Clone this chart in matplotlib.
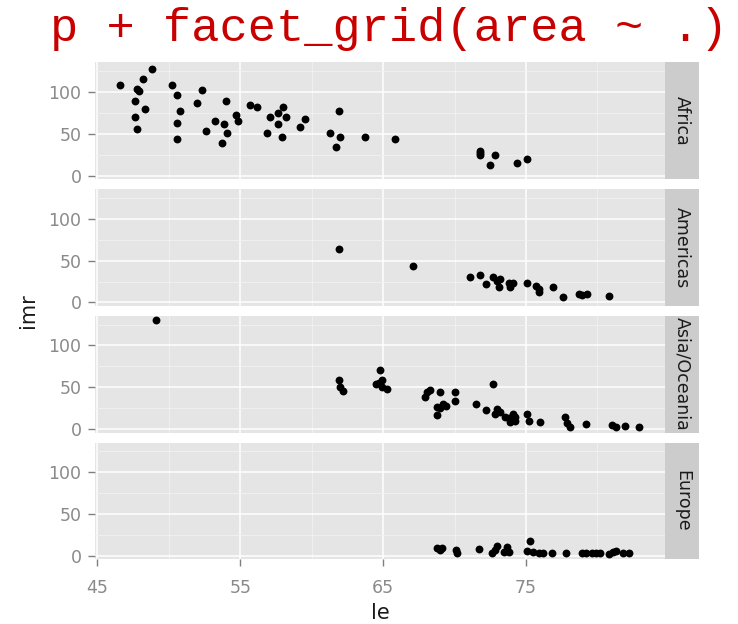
import matplotlib
matplotlib.use("Agg")
import matplotlib.pyplot as plt
from matplotlib.patches import Rectangle

# life expectancy (le) and infant mortality rate (imr) per area
africa_le = [46.55, 47.66, 47.8, 47.94, 47.66, 47.8, 48.3, 48.2, 48.8, 50.2,
             50.6, 50.8, 50.6, 50.6, 52.0, 52.3, 52.6, 53.2, 53.7, 53.85,
             54.0, 54.1, 54.7, 54.85, 55.7, 56.2, 57.1, 56.9, 57.65, 57.65,
             58.0, 58.2, 57.9, 59.2, 59.5, 61.3, 61.9, 61.7, 62.0, 63.7,
             65.8, 71.8, 71.8, 71.8, 72.8, 72.5, 74.4, 75.1]
africa_imr = [108, 89, 104, 101, 70, 56, 80, 115, 127, 108,
              96, 77, 63, 44, 87, 102, 53, 65, 39, 62,
              89, 51, 73, 65, 84, 82, 70, 51, 75, 62,
              82, 70, 46, 58, 68, 51, 77, 34, 46, 46,
              44, 29, 25, 27, 25, 13, 15, 20]

americas_le = [61.9, 67.1, 71.1, 71.8, 72.2, 72.7, 73.0, 73.2, 73.1, 73.8,
               73.9, 74.1, 75.1, 75.7, 75.9, 75.9, 76.9, 77.6, 78.7, 78.9,
               79.3, 80.8]
americas_imr = [64, 44, 30, 33, 22, 30, 26, 28, 18, 23,
                19, 23, 23, 20, 13, 16, 18, 6, 10, 9,
                10, 8]

asia_le = [49.1, 61.9, 62.0, 62.2, 64.8, 64.7, 64.9, 64.9, 65.3, 64.5,
           67.9, 68.1, 68.3, 69.0, 68.8, 69.0, 68.8, 69.2, 69.4, 70.0,
           70.0, 71.5, 72.2, 72.7, 72.8, 73.0, 73.2, 73.5, 73.8, 73.9,
           74.1, 74.2, 74.2, 75.1, 75.2, 76.0, 77.7, 77.9, 78.1, 79.2,
           81.0, 81.3, 81.9, 82.9]
asia_imr = [130, 59, 51, 46, 71, 55, 59, 51, 48, 54,
            39, 44, 47, 44, 27, 25, 17, 30, 28, 44,
            34, 30, 23, 54, 18, 24, 20, 14, 13, 8,
            18, 14, 10, 18, 10, 8, 14, 7, 3, 6,
            5, 3, 4, 3]

europe_le = [68.8, 68.95, 69.1, 70.1, 70.2, 71.7, 72.6, 72.8, 73.0, 73.45,
             73.7, 73.8, 75.3, 75.1, 75.5, 75.9, 76.2, 76.8, 77.8, 78.9,
             79.2, 79.6, 79.9, 80.2, 80.8, 81.1, 81.3, 81.8, 82.2]
europe_imr = [10, 7, 10, 7, 3, 8, 3, 7, 12, 5,
              11, 5, 18, 6, 5, 4, 3, 3, 3, 3,
              3, 3, 3, 4, 2, 5, 6, 3, 3]

areas = ["Africa", "Americas", "Asia/Oceania", "Europe"]
le_by_area = [africa_le, americas_le, asia_le, europe_le]
imr_by_area = [africa_imr, americas_imr, asia_imr, europe_imr]

x_ticks = [45, 55, 65, 75]
x_minor = [50, 60, 70, 80]
y_ticks = [0, 50, 100]
y_minor = [25, 75, 125]

fig, axes = plt.subplots(4, 1, figsize=(7.38, 6.24), dpi=100,
                         sharex=True, sharey=True)
fig.subplots_adjust(left=0.1291, right=0.9015, top=0.9002, bottom=0.1037,
                    hspace=0.0857)

strip_w = 33.7 / 570.0
for ax, area, le, imr in zip(axes, areas, le_by_area, imr_by_area):
    ax.set_facecolor("#E5E5E5")
    for s in ax.spines.values():
        s.set_visible(False)
    ax.set_xticks(x_ticks)
    ax.set_xticks(x_minor, minor=True)
    ax.set_yticks(y_ticks)
    ax.set_yticks(y_minor, minor=True)
    ax.grid(True, which="major", color="white", linewidth=1.1)
    ax.grid(True, which="minor", color="#F2F2F2", linewidth=0.6)
    ax.set_axisbelow(True)
    ax.tick_params(which="major", color="#7F7F7F", length=5, width=1,
                   labelsize=12.5, labelcolor="#8A8A8A", pad=5)
    ax.tick_params(which="minor", length=0)
    ax.scatter(le, imr, s=32, color="black", linewidths=0, zorder=3)
    ax.add_patch(Rectangle((1.0, 0.0), strip_w, 1.0, transform=ax.transAxes,
                           facecolor="#CCCCCC", edgecolor="none", clip_on=False))
    ax.text(1.0 + strip_w / 2, 0.5, area, transform=ax.transAxes,
            rotation=-90, ha="center", va="center", fontsize=12.5,
            color="#1A1A1A")

# only the bottom panel carries x ticks
for ax in axes[:-1]:
    ax.tick_params(axis="x", which="major", length=0)

axes[0].set_xlim(44.85, 84.75)
axes[0].set_ylim(-4.0, 135.5)
axes[-1].tick_params(axis="x", pad=9)

fig.text(380 / 738, 1 - 613 / 624, "le", ha="center", va="center",
         fontsize=15, color="#1A1A1A")
fig.text(28 / 738, 1 - 311 / 624, "imr", ha="center", va="center",
         rotation=90, fontsize=15, color="#1A1A1A")

fig.text(50 / 738, 1 - 41 / 624, "p + facet_grid(area ~ .)",
         family="Liberation Mono", fontsize=33.8, color="#C80000",
         va="baseline", ha="left")

fig.savefig("out.png", dpi=100)
